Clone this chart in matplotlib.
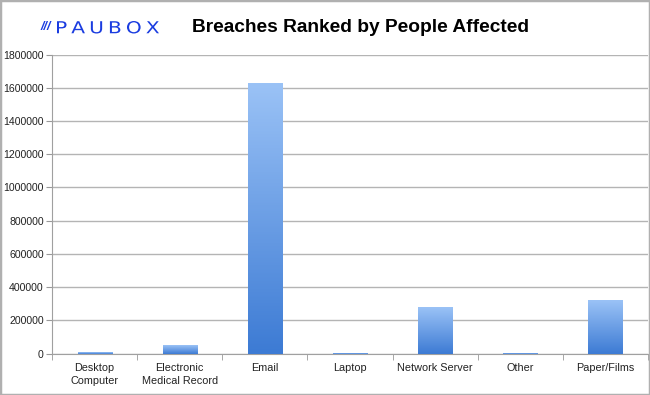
import matplotlib.pyplot as plt
import numpy as np
from matplotlib.colors import LinearSegmentedColormap
from matplotlib.font_manager import FontProperties
from matplotlib.patches import PathPatch, Rectangle
from matplotlib.textpath import TextPath
from matplotlib.transforms import Affine2D

categories = ['Desktop\nComputer', 'Electronic\nMedical Record', 'Email', 'Laptop',
              'Network Server', 'Other', 'Paper/Films']
people_affected = [7000, 50000, 1630000, 2000, 280000, 5000, 321000]
y_ticks = [0, 200000, 400000, 600000, 800000, 1000000, 1200000, 1400000, 1600000, 1800000]

plt.rcParams['font.family'] = ['Liberation Sans', 'DejaVu Sans']

W, H = 650, 395
fig = plt.figure(figsize=(W / 100, H / 100), dpi=100)
fig.patches.append(Rectangle((0, 0), 1, 1, transform=fig.transFigure, fill=False,
                             edgecolor='#b0b0b0', linewidth=2.5))
ax = fig.add_axes([0.08, 0.105, 0.917, 0.757])

x = np.arange(len(categories))
bars = ax.bar(x, people_affected, width=0.4, color='none', zorder=3)

# vertical gradient on each bar, light on top, dark at the bottom
grad = LinearSegmentedColormap.from_list('bar', ['#3d7bd4', '#9ac2f6'])
for b in bars:
    x0, y0 = b.get_x(), b.get_y()
    w, h = b.get_width(), b.get_height()
    im = ax.imshow(np.linspace(0, 1, 100).reshape(-1, 1), cmap=grad, aspect='auto',
                   origin='lower', extent=[x0, x0 + w, y0, y0 + h], zorder=3)
    im.set_clip_path(b)

ax.set_xlim(-0.5, len(categories) - 0.5)
ax.set_ylim(0, 1800000)
ax.set_yticks(y_ticks)
ax.set_yticklabels([str(v) for v in y_ticks])
ax.set_xticks(x)
ax.set_xticklabels(categories, linespacing=1.35)
ax.set_xticks(np.arange(len(categories) + 1) - 0.5, minor=True)
ax.tick_params(axis='x', which='major', length=0, pad=7, labelsize=7.8, labelcolor='#222222')
ax.tick_params(axis='x', which='minor', length=4, color='#999999', direction='out')
ax.tick_params(axis='y', length=4, color='#999999', pad=2, labelsize=7.6, labelcolor='#222222')

ax.grid(axis='y', color='#b4b4b4', linewidth=1, zorder=0)
ax.set_axisbelow(True)
for s in ['top', 'right']:
    ax.spines[s].set_visible(False)
for s in ['left', 'bottom']:
    ax.spines[s].set_color('#a0a0a0')

fig.text(0.555, 0.931, 'Breaches Ranked by People Affected', ha='center', va='center',
         fontsize=13.8, fontweight='bold', color='black')

# logo: slashes + wide, stretched PAUBOX wordmark
logo_blue = '#1a3ce0'
fig.text(0.062, 0.931, '///', ha='left', va='center', fontsize=9, color=logo_blue,
         style='italic', fontweight='bold')
tp = TextPath((0, 0), '\u2009'.join('PAUBOX'), size=10,
              prop=FontProperties(family='DejaVu Sans'))
ext = tp.get_extents()
sx = 102 / ext.width
sy = 12.5 / ext.height
to_px = Affine2D().translate(-ext.x0, -ext.y0).scale(sx, sy).translate(57, H - 33.5)
logo = PathPatch(tp, facecolor=logo_blue, edgecolor='none',
                 transform=to_px + Affine2D().scale(1 / W, 1 / H) + fig.transFigure)
fig.patches.append(logo)

fig.savefig('out.png', dpi=100)
